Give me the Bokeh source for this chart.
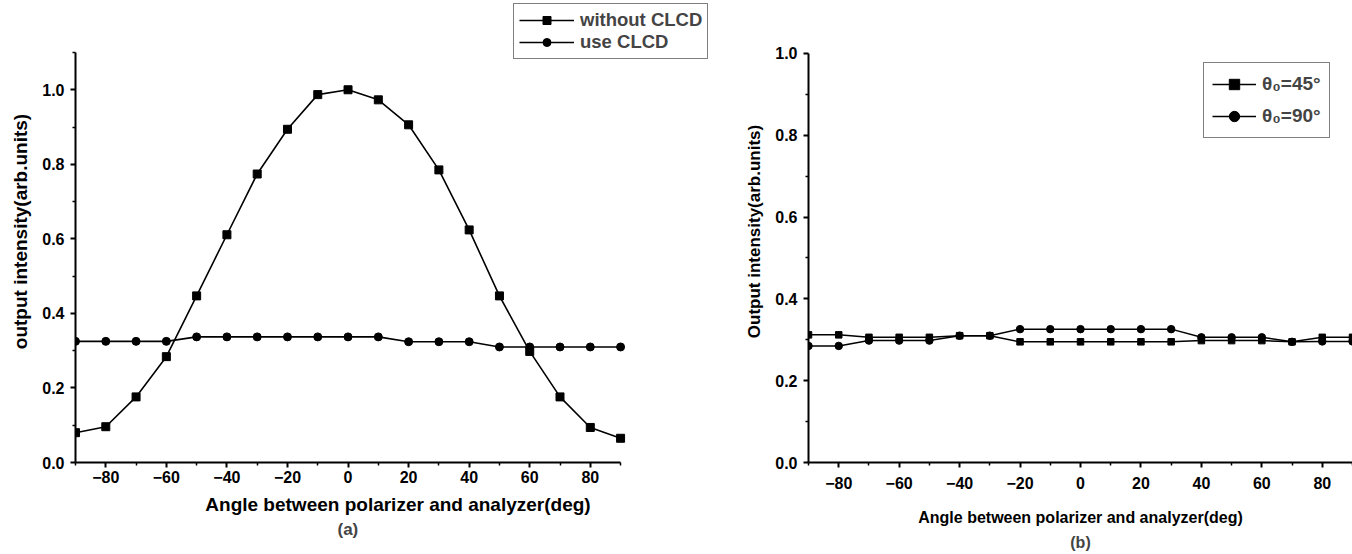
from bokeh.plotting import figure
from bokeh.models import Range1d, FixedTicker, Legend, LegendItem, Title, PrintfTickFormatter
from bokeh.layouts import row
from bokeh.embed import file_html
from bokeh.resources import INLINE

# ---- data ----
angles = [-90, -80, -70, -60, -50, -40, -30, -20, -10, 0, 10, 20, 30, 40, 50, 60, 70, 80, 90]

# panel (a)
without_clcd = [0.080, 0.096, 0.176, 0.284, 0.447, 0.611, 0.774, 0.894, 0.987, 1.000,
                0.973, 0.906, 0.785, 0.624, 0.447, 0.298, 0.176, 0.094, 0.065]
use_clcd = [0.325, 0.325, 0.325, 0.325, 0.337, 0.337, 0.337, 0.337, 0.337, 0.337,
            0.337, 0.324, 0.324, 0.324, 0.310, 0.310, 0.310, 0.310, 0.310]

# panel (b)
theta_45 = [0.312, 0.312, 0.306, 0.306, 0.306, 0.310, 0.310, 0.295, 0.295, 0.295,
            0.295, 0.295, 0.295, 0.298, 0.298, 0.298, 0.295, 0.306, 0.306]
theta_90 = [0.285, 0.285, 0.298, 0.298, 0.298, 0.310, 0.310, 0.326, 0.326, 0.326,
            0.326, 0.326, 0.326, 0.306, 0.306, 0.306, 0.295, 0.296, 0.296]

x_major = [-80, -60, -40, -20, 0, 20, 40, 60, 80]
x_minor = [-90, -70, -50, -30, -10, 10, 30, 50, 70, 90]
y_major = [0, 0.2, 0.4, 0.6, 0.8, 1.0]

FONT = "Liberation Sans"


def style_axes(p, xlabel, ylabel, xsize, ysize, ystand, xtick_stand, xlabel_stand):
    p.xaxis.axis_label = xlabel
    p.yaxis.axis_label = ylabel
    for ax in (p.xaxis[0], p.yaxis[0]):
        ax.axis_line_width = 2
        ax.axis_line_color = "black"
        ax.major_tick_line_width = 2
        ax.minor_tick_line_width = 1.5
        ax.major_tick_in = 0
        ax.major_tick_out = 5
        ax.minor_tick_in = 0
        ax.minor_tick_out = 3
        ax.major_label_text_font = FONT
        ax.major_label_text_font_style = "bold"
        ax.major_label_text_font_size = "16px"
        ax.major_label_text_color = "black"
        ax.axis_label_text_font = FONT
        ax.axis_label_text_font_style = "bold"
        ax.axis_label_text_color = "black"
    p.xaxis[0].axis_label_text_font_size = xsize
    p.yaxis[0].axis_label_text_font_size = ysize
    p.xaxis[0].ticker = FixedTicker(ticks=x_major, minor_ticks=x_minor)
    p.xaxis[0].major_label_standoff = xtick_stand
    p.xaxis[0].axis_label_standoff = xlabel_stand
    p.yaxis[0].axis_label_standoff = ystand
    p.yaxis[0].major_label_standoff = 6
    p.yaxis[0].formatter = PrintfTickFormatter(format="%.1f")
    p.xgrid.visible = False
    p.ygrid.visible = False
    p.outline_line_color = None


# Both frames span the full top of the page; axes are limited with bounds so the
# legends (which sit partly outside the axes) are not clipped.

# ---- panel (a) ----
p1 = figure(width=720, height=554, x_range=Range1d(-90, 123.0), y_range=Range1d(0, 1.2395),
            output_backend="svg", toolbar_location=None,
            min_border_left=75, min_border_right=0, min_border_top=0, min_border_bottom=92)
style_axes(p1, "Angle between polarizer and analyzer(deg)", "output intensity(arb.units)",
           "19px", "19px", 8, 3, 8)
p1.xaxis[0].bounds = (-90, 90)
p1.yaxis[0].bounds = (0, 1.1)
p1.yaxis[0].ticker = FixedTicker(ticks=y_major, minor_ticks=[0.1, 0.3, 0.5, 0.7, 0.9, 1.1])

l1 = p1.line(angles, without_clcd, line_color="black", line_width=1.6)
s1 = p1.scatter(angles, without_clcd, marker="square", size=8, color="black")
l2 = p1.line(angles, use_clcd, line_color="black", line_width=1.6)
s2 = p1.scatter(angles, use_clcd, marker="circle", size=8, color="black")

leg1 = Legend(items=[LegendItem(label="without CLCD", renderers=[l1, s1]),
                     LegendItem(label="use CLCD", renderers=[l2, s2])],
              location=(438, 403), glyph_width=55, glyph_height=20, label_height=20,
              label_standoff=6, padding=5, spacing=0, margin=0,
              label_text_font=FONT, label_text_font_style="bold", label_text_font_size="18.5px",
              border_line_color="black", border_line_width=1.5, background_fill_alpha=1)
p1.add_layout(leg1, "center")
p1.add_layout(Title(text="(a)", align="left", offset=262, text_font=FONT, text_font_style="bold",
                    text_font_size="17px", standoff=0), "below")

# ---- panel (b) ----
p2 = figure(width=632, height=554, x_range=Range1d(-90, 90), y_range=Range1d(0, 1.1294),
            output_backend="svg", toolbar_location=None,
            min_border_left=88, min_border_right=0, min_border_top=0, min_border_bottom=92)
style_axes(p2, "Angle between polarizer and analyzer(deg)", "Output intensity(arb.units)",
           "16px", "17px", 8, 9, 17)
p2.yaxis[0].bounds = (0, 1.0)
p2.yaxis[0].ticker = FixedTicker(ticks=y_major, minor_ticks=[0.1, 0.3, 0.5, 0.7, 0.9])

l3 = p2.line(angles, theta_45, line_color="black", line_width=1.5)
s3 = p2.scatter(angles, theta_45, marker="square", size=6.5, color="black")
l4 = p2.line(angles, theta_90, line_color="black", line_width=1.5)
s4 = p2.scatter(angles, theta_90, marker="circle", size=7.5, color="black")

leg2 = Legend(items=[LegendItem(label="θ₀=45°", renderers=[l3, s3]),
                     LegendItem(label="θ₀=90°", renderers=[l4, s4])],
              location=(395, 324), margin=0, glyph_width=44, glyph_height=26, label_height=26,
              label_standoff=6, padding=8, spacing=6,
              label_text_font=FONT, label_text_font_style="bold", label_text_font_size="19px",
              border_line_color="black", border_line_width=1.5, background_fill_alpha=1)
p2.add_layout(leg2, "center")
p2.add_layout(Title(text="(b)", align="center", text_font=FONT, text_font_style="bold",
                    text_font_size="16px", standoff=6), "below")

layout = row(p1, p2)
open("out.html", "w").write(file_html(layout, INLINE))
